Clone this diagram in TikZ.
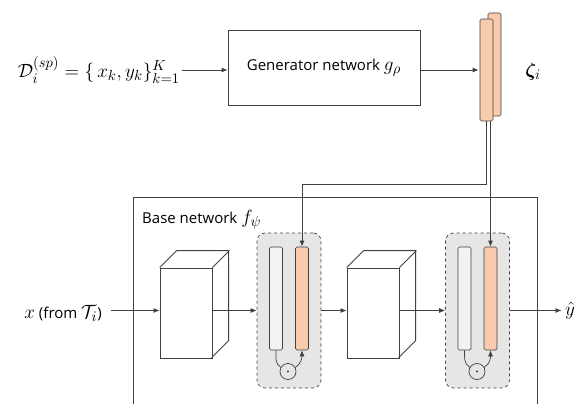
\documentclass[tikz,border=0pt]{standalone}
\usepackage{amsmath,amssymb,bm}
\usepackage{fontspec}
\setmainfont{Open Sans}
\usetikzlibrary{arrows.meta,positioning,calc}

\definecolor{zetaorange}{HTML}{F8CBAD}
\definecolor{bargray}{HTML}{F2F2F2}
\definecolor{modgray}{HTML}{E7E6E6}
\definecolor{linegray}{HTML}{404040}

% math set a bit larger, to sit with the sans text
\newcommand{\mth}[1]{\scalebox{1.33}{$#1$}}

\tikzset{
  every node/.style={font=\fontsize{15pt}{18pt}\selectfont},
  netbox/.style={draw=linegray, line width=0.8pt, inner sep=0pt},
  vecbar/.style={draw=linegray, line width=0.7pt, rounded corners=1.5pt,
                 minimum width=13pt, minimum height=103pt, inner sep=0pt},
  scalebar/.style={vecbar, fill=zetaorange},
  featbar/.style={vecbar, fill=bargray},
  modblock/.style={draw=linegray, dashed, line width=0.7pt, fill=modgray,
                   rounded corners=8pt, minimum width=64pt,
                   minimum height=155pt, inner sep=0pt},
  layerface/.style={draw=linegray, line width=0.8pt, fill=white,
                    minimum width=52pt, minimum height=90pt, inner sep=0pt},
  odot/.style={circle, draw=linegray, line width=0.7pt, minimum size=16pt,
               inner sep=0pt},
  flow/.style={-{Latex[length=6pt,width=5pt]}, draw=linegray, line width=0.8pt}
}

% conv block: front face plus top and side faces
\newcommand{\convlayer}[2]{%
  \node[layerface] (#1) at (#2) {};
  \draw[linegray, line width=0.8pt] (#1.north west) -- ++(17,-17) -- ++(52,0)
        -- ++(0,90) -- ++(-17,17);
  \draw[linegray, line width=0.8pt] (#1.north east) -- ++(17,-17);
}

% modulation block: features, scaling vector and the product
\newcommand{\modlayer}[3]{%
  \node[modblock] (mod#1) at (#2) {};
  \node[featbar] (g#1) at ($(mod#1.center)+(-13,-12)$) {};
  \node[scalebar] (o#1) at ($(mod#1.center)+(13,-12)$) {};
  \node[odot] (dot#1) at ($(mod#1.center)+(#3,61)$) {};
  \fill[linegray] (dot#1) circle (1.1pt);
  \draw[linegray, line width=0.7pt] (g#1.south) to[out=-90,in=150] (dot#1.150);
  \draw[flow, line width=0.7pt] (dot#1.30) to[out=30,in=-90] (o#1.south);
}

\begin{document}
\begin{tikzpicture}[x=1pt,y=-1pt]
  \useasboundingbox (0,0) rectangle (587,404);

  % generator part
  \node[netbox, minimum width=192pt, minimum height=75pt] (gen) at (324,67.5)
        {Generator network \mth{g_\rho}};
  \node[anchor=east, inner sep=2pt] (data) at (182,70)
        {\mth{\mathcal{D}_i^{(sp)} = \{\, x_k, y_k \}_{k=1}^{K}}};
  \node[scalebar, minimum height=103pt] (zback) at (494.5,64.5) {};
  \node[scalebar, minimum height=102pt] (zfront) at (486.5,70) {};
  \node (zeta) at (533,72) {\mth{\bm{\zeta}_i}};

  \draw[flow] (data.east) -- (data.east -| gen.west);
  \draw[flow] (gen.east |- data.east) -- ([xshift=-1pt]zfront.west |- data.east);

  % base network
  \draw[netbox] (133,404) |- (537,197) -- (537,404);
  \node[anchor=base west, inner sep=0pt] (base) at (142,223)
        {Base network \mth{f_\psi}};

  \convlayer{cubeA}{186,313}
  \modlayer{A}{289,310.5}{-1}
  \convlayer{cubeB}{373,313}
  \modlayer{B}{477.5,310.5}{-0.5}

  \node[anchor=east, inner sep=2pt] (xin) at (104,313) {\mth{x} (from \mth{\mathcal{T}_i})};
  \node (yhat) at (570,311) {\mth{\hat{y}}};

  \draw[flow] ([xshift=7pt]xin.east |- modA.west) -- (cubeA.west |- modA.west);
  \draw[flow] (cubeA.east |- modA.west) -- (modA.west);
  \draw[flow] (modA.east) -- (cubeB.west |- modA.west);
  \draw[flow] (cubeB.east |- modB.west) -- (modB.west);
  \draw[flow] (modB.east) -- (yhat.west |- modB.east);

  % scaling vectors fed into the base network
  \draw[flow] ([xshift=-0.5pt]zfront.south) -- ++(0,63) -| (oA.north);
  \draw[flow] (zfront.south -| oB.north) -- (oB.north);
\end{tikzpicture}
\end{document}
